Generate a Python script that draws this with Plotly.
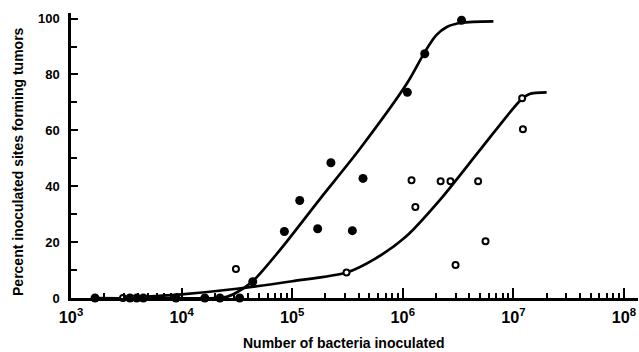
import plotly.graph_objects as go

# Filled circles (data points)
filled_x = [1650, 3410, 3930, 4510, 8900, 16200, 22200, 33500,
            44000, 85000, 117000, 170000, 224000, 350000, 437000,
            1.1e6, 1.58e6, 3.4e6]
filled_y = [0, 0, 0, 0, 0, 0, 0, 0,
            5.8, 23.8, 34.9, 24.8, 48.4, 24.1, 42.8,
            73.6, 87.4, 99.4]

# Open circles (data points)
open_x = [2950, 31000, 310000, 1.2e6, 1.3e6, 2.2e6, 2.7e6, 3.0e6,
          4.8e6, 5.6e6, 1.2e7, 1.22e7]
open_y = [0, 10.4, 9.1, 42.1, 32.6, 41.8, 41.8, 11.8,
          41.8, 20.3, 71.5, 60.4]

# Fitted curves
fcurve_x = [1650, 20000, 26000, 30000, 44000, 78000, 178000, 410000,
            1.1e6, 1.58e6, 2.0e6, 2.5e6, 3.4e6, 6.6e6]
fcurve_y = [0, 0, 0.5, 1.5, 6.0, 17.3, 35.4, 53.4,
            77.0, 88.0, 94.0, 97.0, 98.5, 99.0]

ocurve_x = [2950, 10000, 31600, 100000, 310000, 560000, 1.07e6, 2.2e6,
            5.0e6, 1.15e7, 1.4e7, 2.0e7]
ocurve_y = [0, 1.3, 3.3, 6.0, 9.1, 14.0, 22.0, 35.4,
            53.0, 70.6, 73.0, 73.6]

fig = go.Figure()
fig.add_trace(go.Scatter(x=fcurve_x, y=fcurve_y, mode="lines",
                         line=dict(color="black", width=2.7, shape="spline", smoothing=0.8),
                         hoverinfo="skip", showlegend=False))
fig.add_trace(go.Scatter(x=ocurve_x, y=ocurve_y, mode="lines",
                         line=dict(color="black", width=2.7, shape="spline", smoothing=0.8),
                         hoverinfo="skip", showlegend=False))
fig.add_trace(go.Scatter(x=filled_x, y=filled_y, mode="markers",
                         marker=dict(symbol="circle", size=9, color="black"),
                         showlegend=False, cliponaxis=False))
fig.add_trace(go.Scatter(x=open_x, y=open_y, mode="markers",
                         marker=dict(symbol="circle", size=6, color="white",
                                     line=dict(color="black", width=2)),
                         showlegend=False, cliponaxis=False))

FONT = "Liberation Sans, Arial, sans-serif"
tickfont = dict(family=FONT, size=13, color="black", weight="bold")

fig.update_layout(
    width=639, height=352,
    margin=dict(l=71, r=1, t=13, b=54, autoexpand=False),
    paper_bgcolor="white", plot_bgcolor="white",
    xaxis=dict(type="log", range=[3, 8.127], dtick=1, exponentformat="power",
               automargin=False,
               showgrid=False, zeroline=False,
               showline=True, linecolor="black", linewidth=2.5,
               ticks="inside", ticklen=10, tickwidth=2, tickcolor="black",
               minor=dict(ticks="inside", ticklen=5, tickwidth=1.5, tickcolor="black", dtick="D1", showgrid=False),
               tickfont=tickfont, ticklabelstandoff=3),
    yaxis=dict(range=[0, 102], tickvals=[0, 20, 40, 60, 80, 100],
               automargin=False,
               showgrid=False, zeroline=False,
               showline=True, linecolor="black", linewidth=2.5,
               ticks="inside", ticklen=7, tickwidth=2, tickcolor="black",
               minor=dict(ticks="inside", ticklen=6, tickwidth=2, tickcolor="black", dtick=10, showgrid=False),
               tickfont=tickfont, ticklabelstandoff=6),
    annotations=[
        dict(text="Number of bacteria inoculated", xref="paper", yref="paper",
             x=0.4806, y=-0.158, xanchor="center", yanchor="middle", showarrow=False,
             font=dict(family=FONT, size=14, color="black", weight="bold")),
        dict(text="Percent inoculated sites forming tumors", xref="paper", yref="paper",
             x=-0.0935, y=0.4807, xanchor="center", yanchor="middle", showarrow=False, textangle=-90,
             font=dict(family=FONT, size=14, color="black", weight="bold")),
    ],
)

fig.write_html("out.html", config={"displayModeBar": False},
               post_script="document.body.style.margin='0';document.body.style.padding='0';")
